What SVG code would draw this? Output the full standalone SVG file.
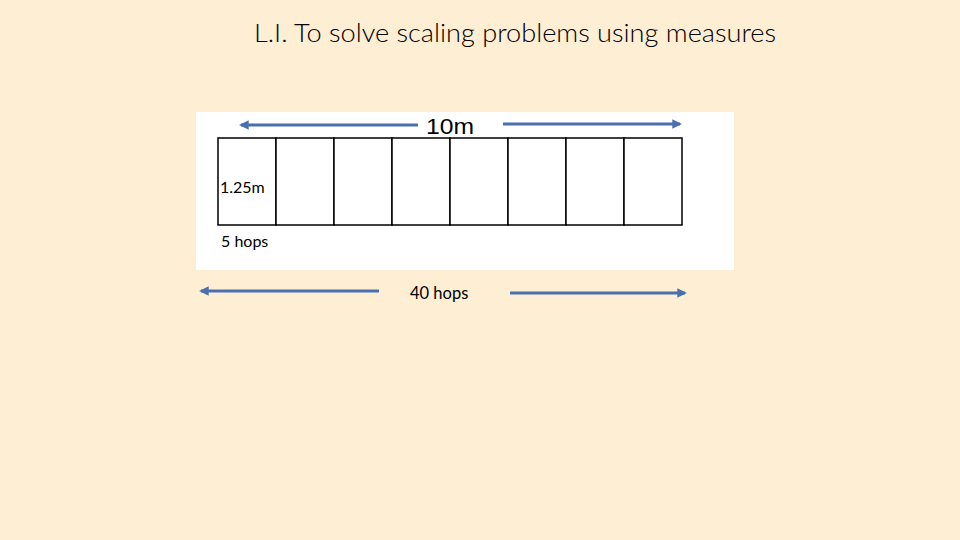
<svg xmlns="http://www.w3.org/2000/svg" width="960" height="540" viewBox="0 0 960 540">
<style>
.arr{stroke:#4a70b0;stroke-width:3;fill:none}
.cell{fill:#ffffff;stroke:#000000;stroke-width:1.5}
.t{font-family:"Lato","Liberation Sans",sans-serif;fill:#000}
.big{font-family:"Liberation Sans",sans-serif;fill:#000}
</style>
<defs>
<marker id="ah" viewBox="0 0 10 10" refX="8" refY="5" markerWidth="3.2" markerHeight="3.2" orient="auto-start-reverse" markerUnits="strokeWidth">
<path d="M0,0 L10,5 L0,10 z" fill="#4a70b0"/>
</marker>
</defs>
<rect width="960" height="540" fill="#fdeed4"/>
<text class="t" x="254" y="42" font-size="26" font-weight="300" textLength="522" lengthAdjust="spacingAndGlyphs">L.I. To solve scaling problems using measures</text>
<g id="panel">
<rect x="196" y="112" width="538" height="158" fill="#ffffff"/>
</g>
<g id="grid">
<rect class="cell" x="218" y="138" width="58" height="87"/>
<rect class="cell" x="276" y="138" width="58" height="87"/>
<rect class="cell" x="334" y="138" width="58" height="87"/>
<rect class="cell" x="392" y="138" width="58" height="87"/>
<rect class="cell" x="450" y="138" width="58" height="87"/>
<rect class="cell" x="508" y="138" width="58" height="87"/>
<rect class="cell" x="566" y="138" width="58" height="87"/>
<rect class="cell" x="624" y="138" width="58" height="87"/>
</g>
<g id="connectors">
<line class="arr" x1="418" y1="125" x2="241" y2="125" marker-end="url(#ah)"/>
<line class="arr" x1="503" y1="124" x2="680" y2="124" marker-end="url(#ah)"/>
<line class="arr" x1="379" y1="291" x2="201" y2="291" marker-end="url(#ah)"/>
<line class="arr" x1="510" y1="293" x2="685" y2="293" marker-end="url(#ah)"/>
</g>
<g id="labels">
<text class="big" x="426" y="134" font-size="22" textLength="48" lengthAdjust="spacingAndGlyphs">10m</text>
<text class="t" x="220" y="193" font-size="16">1.25m</text>
<text class="t" x="221" y="247" font-size="16">5 hops</text>
<text class="t" x="410" y="299" font-size="16.5">40 hops</text>
</g>
</svg>
